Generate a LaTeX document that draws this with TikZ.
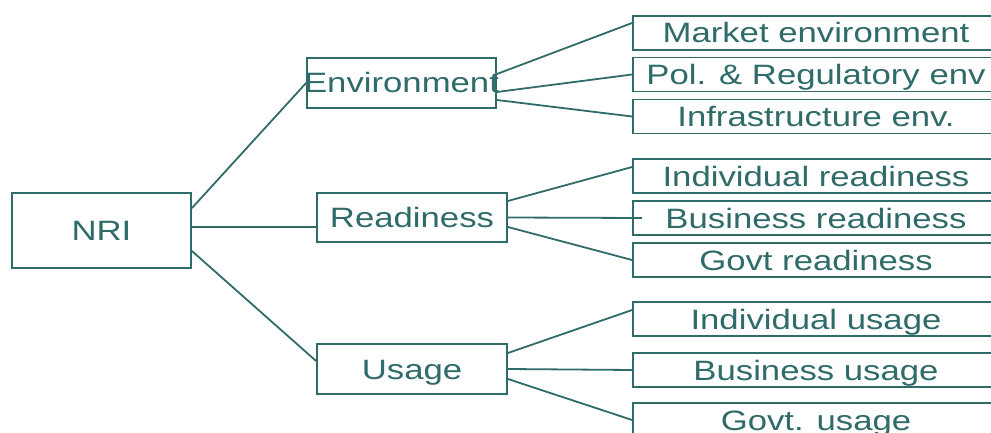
\documentclass[tikz,border=0pt]{standalone}
\usepackage{fontspec}
\setmainfont{Liberation Sans}[FakeStretch=1.24]
\definecolor{nriteal}{RGB}{47,107,104}
\tikzset{box/.style={draw, inner sep=0pt, minimum height=34pt, text height=22pt, text depth=2pt},
  leaf/.style={box, minimum width=366pt}}

\begin{document}
\begin{tikzpicture}[x=1pt, y=-1pt, nriteal, line width=1.8pt, every node/.style={font=\fontsize{28}{30}\selectfont, text=nriteal}]
  \useasboundingbox (0,0) rectangle (991,433);
  \node[box, minimum width=179pt, minimum height=75pt] (nri) at (101.5,230.5) {NRI};
  \node[box, minimum width=189pt, minimum height=50pt] (env) at (401.5,83) {\makebox[0pt]{Environment}};
  \node[box, minimum width=190pt, minimum height=49pt] (ready) at (412,217.5) {Readiness};
  \node[box, minimum width=190pt, minimum height=50pt] (usage) at (412,369) {Usage};
  \node[leaf] (market) at (816,33) {Market environment};
  \node[leaf] (pol) at (816,74.5) {Pol. \& Regulatory env};
  \node[leaf] (infra) at (816,116.5) {Infrastructure env.};
  \node[leaf] (indready) at (816,176) {Individual readiness};
  \node[leaf] (busready) at (816,218) {Business readiness};
  \node[leaf] (govready) at (816,260) {Govt readiness};
  \node[leaf] (indusage) at (816,319) {Individual usage};
  \node[leaf] (bususage) at (816,370) {Business usage};
  \node[leaf] (govusage) at (816,420) {Govt. usage};
  \draw ([yshift=-16pt]nri.north east) -- (env.west);
  \draw ([yshift=3.5pt]nri.east) -- ([yshift=-9.5pt]ready.west);
  \draw ([yshift=-20.5pt]nri.east) -- ([yshift=8pt]usage.west);
  \draw ([yshift=9pt]env.east) -- ([yshift=10pt]market.west);
  \draw ([yshift=-9pt]env.east) -- (pol.west);
  \draw ([yshift=-17pt]env.east) -- (infra.west);
  \draw ([yshift=16.5pt]ready.east) -- ([yshift=9pt]indready.west);
  \draw (ready.east) -- ([xshift=10pt]busready.west);
  \draw ([yshift=-9.5pt]ready.east) -- (govready.west);
  \draw ([yshift=16pt]usage.east) -- ([yshift=9pt]indusage.west);
  \draw (usage.east) -- (bususage.west);
  \draw ([yshift=-10pt]usage.east) -- (govusage.west);
\end{tikzpicture}
\end{document}
